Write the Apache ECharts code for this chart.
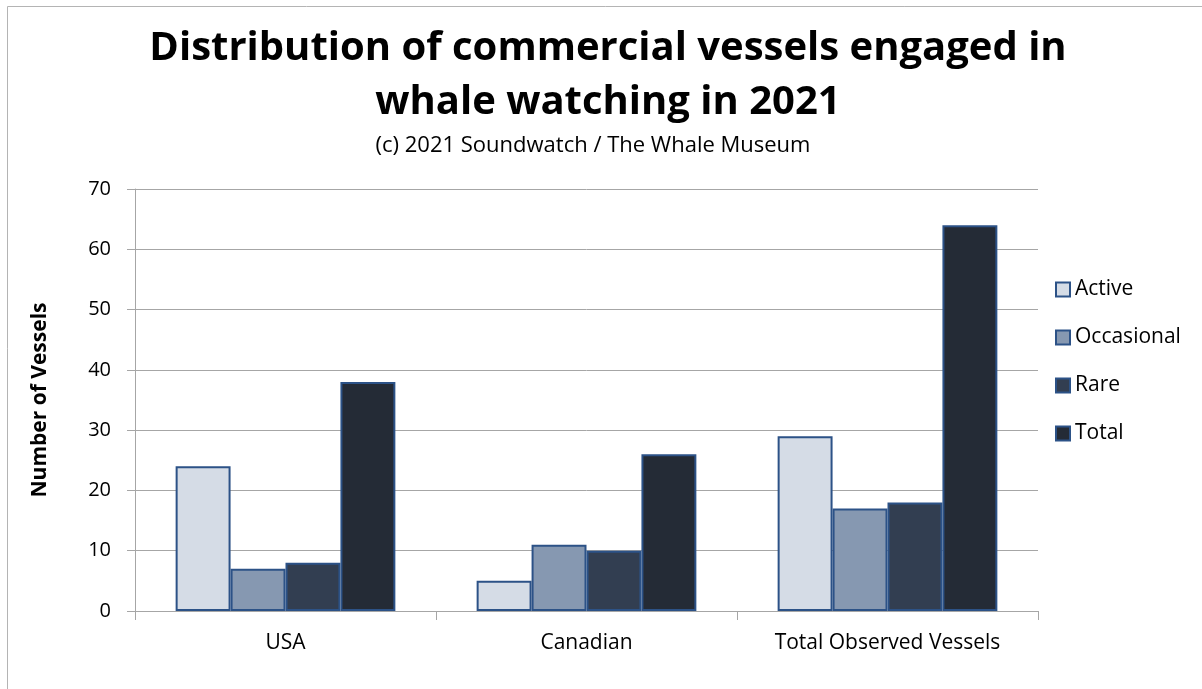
<!DOCTYPE html>
<html>
<head>
<meta charset="utf-8">
<script src="https://cdn.jsdelivr.net/npm/echarts@6/dist/echarts.min.js"></script>
<style>
  html, body { margin: 0; padding: 0; background: #fff; }
  #chart { width: 1202px; height: 689px; }
</style>
</head>
<body>
<div id="chart"></div>
<script>
// Vessel categories along the x axis
const categories = ['USA', 'Canadian', 'Total Observed Vessels'];

// Vessel counts by activity level
const active = [24, 5, 29];
const occasional = [7, 11, 17];
const rare = [8, 10, 18];
const total = [38, 26, 64];

const seriesNames = ['Active', 'Occasional', 'Rare', 'Total'];
const seriesData = [active, occasional, rare, total];
const fills = ['#d5dce6', '#8698b1', '#323e51', '#242b36'];

const FONT = '"Open Sans", "Liberation Sans", sans-serif';

const chart = echarts.init(document.getElementById('chart'));

chart.setOption({
  backgroundColor: '#ffffff',
  animation: false,
  graphic: [{
    type: 'rect',
    shape: { x: 7.5, y: 6.5, width: 1400, height: 900 },
    style: { fill: 'none', stroke: '#b4b4b4', lineWidth: 1 },
    silent: true
  }],
  title: [{
    text: 'Distribution of commercial vessels engaged in\nwhale watching in 2021',
    left: 603,
    textAlign: 'center',
    top: 17,
    textStyle: {
      fontFamily: FONT, fontWeight: 'bold', fontSize: 40,
      lineHeight: 54, color: '#000'
    }
  }, {
    text: '(c) 2021 Soundwatch / The Whale Museum',
    left: 588,
    textAlign: 'center',
    top: 130,
    textStyle: { fontFamily: FONT, fontWeight: 'normal', fontSize: 22, color: '#000' }
  }],
  legend: {
    orient: 'vertical',
    left: 1050,
    top: 273,
    icon: 'rect',
    itemWidth: 14,
    itemHeight: 14,
    itemGap: 25,
    textStyle: { fontFamily: FONT, fontSize: 21, lineHeight: 23, color: '#000' },
    data: seriesNames
  },
  grid: { left: 135, right: 164, top: 189, bottom: 78 },
  xAxis: {
    type: 'category',
    data: categories,
    axisLine: { lineStyle: { color: '#a6a6a6', width: 1 } },
    axisTick: { show: true, length: 9, lineStyle: { color: '#a6a6a6' } },
    axisLabel: { fontFamily: FONT, fontSize: 21, color: '#000', margin: 22 }
  },
  yAxis: {
    type: 'value',
    min: 0,
    max: 70,
    interval: 10,
    name: 'Number of Vessels',
    nameLocation: 'middle',
    nameGap: 84,
    nameTextStyle: { fontFamily: FONT, fontWeight: 'bold', fontSize: 21, color: '#000' },
    axisLine: { show: true, lineStyle: { color: '#a6a6a6', width: 1 } },
    axisTick: { show: true, length: 8, lineStyle: { color: '#a6a6a6' } },
    splitLine: { lineStyle: { color: '#a6a6a6', width: 1 } },
    axisLabel: { fontFamily: FONT, fontSize: 20, color: '#000', margin: 24 }
  },
  series: seriesNames.map((name, i) => ({
    name: name,
    type: 'bar',
    data: seriesData[i],
    barGap: '0%',
    barCategoryGap: '27%',
    itemStyle: { color: fills[i], borderColor: '#2c5287', borderWidth: 2 }
  }))
});
</script>
</body>
</html>
